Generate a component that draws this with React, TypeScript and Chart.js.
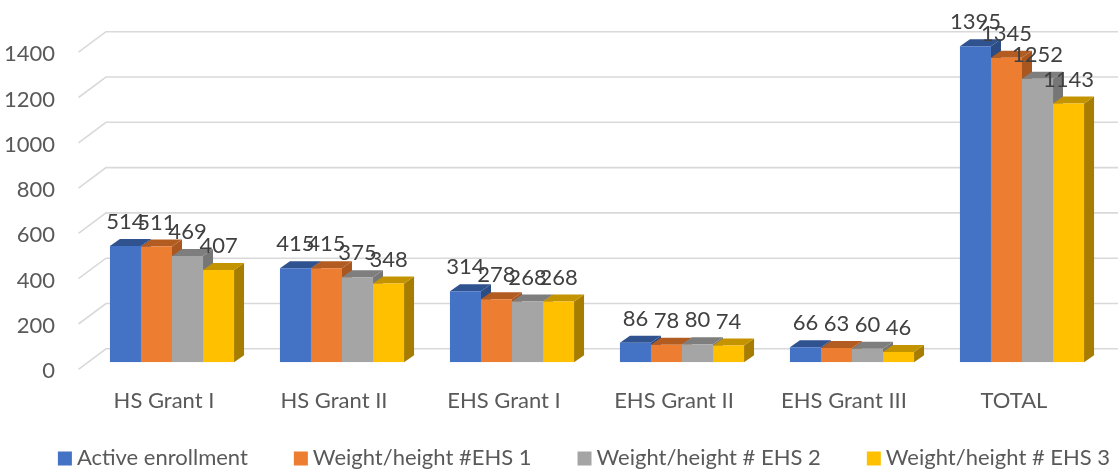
import React, { useEffect, useRef } from 'react';
import { Chart, registerables } from 'chart.js';

Chart.register(...registerables);

const categories = ['HS Grant I', 'HS Grant II', 'EHS Grant I', 'EHS Grant II', 'EHS Grant III', 'TOTAL'];
const activeEnrollment = [514, 415, 314, 86, 66, 1395];
const weightHeightEHS1 = [511, 415, 278, 78, 63, 1345];
const weightHeightEHS2 = [469, 375, 268, 80, 60, 1252];
const weightHeightEHS3 = [407, 348, 268, 74, 46, 1143];
const seriesNames = ['Active enrollment', 'Weight/height #EHS 1', 'Weight/height # EHS 2', 'Weight/height # EHS 3'];
const yMin = 0;
const yMax = 1400;
const yStep = 200;

const frontColors = ['#4472C4', '#ED7D31', '#A5A5A5', '#FFC000'];
const topColors = ['#30538F', '#B35C22', '#7E7E7E', '#C49400'];
const sideColors = ['#2C4C84', '#A9561F', '#767676', '#A67D00'];

const FONT_FAMILY = 'Lato, "Open Sans", sans-serif';
const FONT_SIZE = 22;

// 3D offsets (pixels)
const BAR_DX = 10;
const BAR_DY = -7;
const FRONT_DX = -8.5;
const FRONT_DY = 7;
const BACK_DX = 19;
const BACK_DY = -13.5;

const threeDPlugin = {
  id: 'threeD',
  beforeDatasetsDraw(chart: any) {
    const ctx = chart.ctx;
    const yScale = chart.scales.y;
    const left = chart.chartArea.left;
    ctx.save();
    // grid: left diagonal + back wall
    ctx.strokeStyle = '#D9D9D9';
    ctx.lineWidth = 1.6;
    yScale.ticks.forEach((t: any) => {
      const y = yScale.getPixelForValue(t.value);
      ctx.beginPath();
      ctx.moveTo(left + FRONT_DX, y + FRONT_DY);
      ctx.lineTo(left + BACK_DX, y + BACK_DY);
      ctx.lineTo(chart.width, y + BACK_DY);
      ctx.stroke();
    });
    // sides and tops of bars, in depth order
    const n = chart.data.labels.length;
    for (let j = 0; j < n; j++) {
      chart.data.datasets.forEach((ds: any, i: number) => {
        const meta = chart.getDatasetMeta(i);
        const el = meta.data[j];
        if (!el) return;
        const { x, y, base, width } = el.getProps(['x', 'y', 'base', 'width'], true);
        const x0 = x - width / 2;
        const x1 = x + width / 2;
        ctx.fillStyle = sideColors[i];
        ctx.beginPath();
        ctx.moveTo(x1, y);
        ctx.lineTo(x1 + BAR_DX, y + BAR_DY);
        ctx.lineTo(x1 + BAR_DX, base + BAR_DY);
        ctx.lineTo(x1, base);
        ctx.closePath();
        ctx.fill();
        ctx.fillStyle = topColors[i];
        ctx.beginPath();
        ctx.moveTo(x0, y);
        ctx.lineTo(x1, y);
        ctx.lineTo(x1 + BAR_DX, y + BAR_DY);
        ctx.lineTo(x0 + BAR_DX, y + BAR_DY);
        ctx.closePath();
        ctx.fill();
      });
    }
    ctx.restore();
  },
  afterDatasetsDraw(chart: any) {
    const ctx = chart.ctx;
    ctx.save();
    ctx.font = `${FONT_SIZE}px ${FONT_FAMILY}`;
    ctx.fillStyle = '#404040';
    ctx.textAlign = 'center';
    ctx.textBaseline = 'middle';
    chart.data.datasets.forEach((ds: any, i: number) => {
      const meta = chart.getDatasetMeta(i);
      meta.data.forEach((el: any, j: number) => {
        const { x, y } = el.getProps(['x', 'y'], true);
        ctx.fillText(String(ds.data[j]), x, y - 24);
      });
    });
    ctx.restore();
  },
  afterDraw(chart: any) {
    // legend
    const ctx = chart.ctx;
    ctx.save();
    ctx.font = `${FONT_SIZE}px ${FONT_FAMILY}`;
    ctx.textBaseline = 'middle';
    ctx.textAlign = 'left';
    const box = 14;
    const boxGap = 5;
    const itemGap = 46;
    const items = chart.data.datasets.map((ds: any, i: number) => ({
      label: ds.label,
      color: frontColors[i],
      w: box + boxGap + ctx.measureText(ds.label).width,
    }));
    const total = items.reduce((s: number, it: any) => s + it.w, 0) + itemGap * (items.length - 1);
    let x = 584 - total / 2;
    const cy = 458.5;
    items.forEach((it: any) => {
      ctx.fillStyle = it.color;
      ctx.fillRect(x, cy - box / 2, box, box);
      ctx.fillStyle = '#595959';
      ctx.fillText(it.label, x + box + boxGap, cy - 0.5);
      x += it.w + itemGap;
    });
    ctx.restore();
  },
};

export default function App() {
  const canvasRef = useRef<HTMLCanvasElement | null>(null);

  useEffect(() => {
    if (!canvasRef.current) return;
    const font = { family: FONT_FAMILY, size: FONT_SIZE };
    const seriesValues = [activeEnrollment, weightHeightEHS1, weightHeightEHS2, weightHeightEHS3];
    const chart = new Chart(canvasRef.current, {
      type: 'bar',
      data: {
        labels: categories,
        datasets: seriesValues.map((vals, i) => ({
          label: seriesNames[i],
          data: vals,
          backgroundColor: frontColors[i],
          borderWidth: 0,
          categoryPercentage: 0.73,
          barPercentage: 1.0,
        })),
      },
      options: {
        responsive: true,
        maintainAspectRatio: false,
        animation: false,
        events: [],
        layout: { padding: { top: 39.6, right: 11, bottom: 51.7, left: 0 } },
        plugins: {
          legend: { display: false },
          tooltip: { enabled: false },
        },
        scales: {
          x: {
            grid: { display: false, drawTicks: false },
            border: { display: false },
            ticks: { font, color: '#595959', padding: 25, labelOffset: -8, maxRotation: 0, autoSkip: false },
            afterFit: (s: any) => { s.height = 60; },
          },
          y: {
            min: yMin,
            max: yMax,
            grid: { display: false, drawTicks: false },
            border: { display: false },
            ticks: {
              stepSize: yStep,
              font,
              color: '#595959',
              padding: 32,
              labelOffset: 9,
              callback: (v: any) => String(v),
            },
            afterFit: (s: any) => { s.width = 87; },
          },
        },
      },
      plugins: [threeDPlugin],
    });
    return () => chart.destroy();
  }, []);

  return (
    <div style={{ position: 'fixed', left: 0, top: 0, width: 1118, height: 474, background: '#FFFFFF' }}>
      <canvas ref={canvasRef} />
    </div>
  );
}
